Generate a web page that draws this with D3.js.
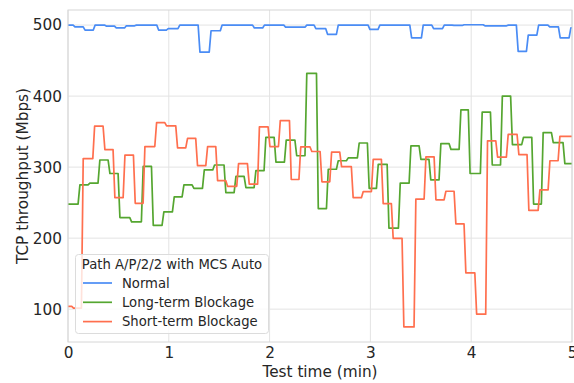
<!DOCTYPE html>
<html>
<head>
<meta charset="utf-8">
<script src="https://cdn.jsdelivr.net/npm/d3@7"></script>
<style>
  html, body { margin: 0; padding: 0; background: #fff; }
  svg { display: block; font-family: "DejaVu Sans", sans-serif; }
</style>
</head>
<body>
<svg id="chart" width="574" height="383"></svg>
<script>
// Throughput traces: each level holds from its start time (min) until the next one.
const normalTimes = [0, 0.06, 0.16, 0.26, 0.37, 0.47, 0.57, 0.67, 0.89, 0.985, 1.10, 1.30, 1.41, 1.52, 1.84, 1.94, 2.15, 2.36, 2.45, 2.566, 2.672, 2.986, 3.085, 3.40, 3.515, 3.618, 3.724, 3.82, 3.92, 4.127, 4.36, 4.457, 4.557, 4.66, 4.77, 4.874, 4.98];
const normalValues = [500, 497.5, 493, 500, 498.6, 496, 499, 500, 493, 495, 500, 462, 492, 500, 496, 500, 497, 500, 495, 487, 500, 494, 500, 482, 500, 495, 500, 499.5, 500.5, 499, 500, 463, 486, 500, 497.5, 482, 496];

const longTimes = [0, 0.109, 0.208, 0.307, 0.407, 0.506, 0.622, 0.737, 0.837, 0.942, 1.045, 1.141, 1.24, 1.343, 1.445, 1.557, 1.657, 1.756, 1.855, 1.954, 2.054, 2.156, 2.26, 2.36, 2.474, 2.573, 2.672, 2.771, 2.88, 2.979, 3.069, 3.175, 3.287, 3.393, 3.492, 3.59, 3.69, 3.79, 3.889, 3.98, 4.10, 4.20, 4.30, 4.40, 4.51, 4.61, 4.705, 4.805, 4.92];
const longValues = [248, 275, 277.5, 310, 291, 229, 223, 301, 218, 237, 258, 275, 270, 296, 303, 264, 287, 271, 295, 342, 307, 338, 316, 432, 241.6, 297, 309, 313, 334, 270, 304, 214, 277.5, 330, 311, 282, 333, 325, 380.7, 291, 377.4, 303, 400, 331.7, 342, 248, 348.7, 334.5, 305];

const shortTimes = [0, 0.046, 0.142, 0.255, 0.357, 0.456, 0.556, 0.658, 0.754, 0.87, 0.969, 1.078, 1.177, 1.276, 1.376, 1.475, 1.574, 1.683, 1.789, 1.89, 1.994, 2.097, 2.206, 2.30, 2.41, 2.51, 2.606, 2.705, 2.82, 2.92, 3.019, 3.118, 3.217, 3.323, 3.442, 3.542, 3.641, 3.74, 3.839, 3.938, 4.045, 4.153, 4.253, 4.358, 4.464, 4.563, 4.673, 4.772, 4.871];
const shortValues = [104, 101.5, 312, 357.6, 324.6, 257, 317, 249, 329, 362.8, 358, 327, 340.6, 302, 329, 281, 273, 305, 276, 356.7, 329, 365.6, 282.6, 328.4, 322, 279.3, 321, 300.6, 257, 265.6, 311, 248.6, 199.7, 75, 255, 314.5, 254, 266, 220, 151, 93, 337, 314, 346, 317.5, 239, 268, 309, 343.4];

const seriesNames = ["Normal", "Long-term Blockage", "Short-term Blockage"];
const seriesColors = ["#4a8cf5", "#55a630", "#ff6f4e"];
const xTicks = [0, 1, 2, 3, 4, 5];
const yTicks = [100, 200, 300, 400, 500];
const legendTitle = "Path A/P/2/2 with MCS Auto";
const xLabel = "Test time (min)";
const yLabel = "TCP throughput (Mbps)";

const series = [
  { times: normalTimes, values: normalValues },
  { times: longTimes, values: longValues },
  { times: shortTimes, values: shortValues }
];

const svg = d3.select("#chart");
const margin = { left: 68, right: 2, top: 10, bottom: 41 };
const W = 574, H = 383;
const tickFont = 15.3;

const x = d3.scaleLinear().domain([0, 5]).range([margin.left, W - margin.right]);
const y = d3.scaleLinear().domain([53.75, 521.25]).range([H - margin.bottom, margin.top]);

// gridlines
const grid = svg.append("g");
grid.selectAll(".gx").data(xTicks).join("line")
  .attr("x1", d => x(d)).attr("x2", d => x(d))
  .attr("y1", y.range()[1]).attr("y2", y.range()[0])
  .attr("stroke", "#e3e3e3").attr("stroke-width", 1);
grid.selectAll(".gy").data(yTicks).join("line")
  .attr("y1", d => y(d)).attr("y2", d => y(d))
  .attr("x1", x.range()[0]).attr("x2", x.range()[1])
  .attr("stroke", "#e3e3e3").attr("stroke-width", 1);

// step traces with a short ramp between samples
const ramp = 0.018;
function tracePoints(s) {
  const pts = [[0, s.values[0]]];
  for (let i = 1; i < s.times.length; i++) {
    pts.push([s.times[i] - ramp / 2, s.values[i - 1]]);
    pts.push([s.times[i] + ramp / 2, s.values[i]]);
  }
  pts.push([5, s.values[s.values.length - 1]]);
  return pts;
}
const line = d3.line().x(d => x(d[0])).y(d => y(d[1]));

svg.append("defs").append("clipPath").attr("id", "plotclip")
  .append("rect").attr("x", x.range()[0]).attr("y", y.range()[1])
  .attr("width", x.range()[1] - x.range()[0]).attr("height", y.range()[0] - y.range()[1]);

const traces = svg.append("g").attr("clip-path", "url(#plotclip)");
series.forEach((s, i) => {
  traces.append("path")
    .datum(tracePoints(s))
    .attr("d", line)
    .attr("fill", "none")
    .attr("stroke", seriesColors[i])
    .attr("stroke-width", 1.7)
    .attr("stroke-linejoin", "round");
});

// frame
svg.append("rect")
  .attr("x", x.range()[0]).attr("y", y.range()[1])
  .attr("width", x.range()[1] - x.range()[0]).attr("height", y.range()[0] - y.range()[1])
  .attr("fill", "none").attr("stroke", "#d6d6d6").attr("stroke-width", 1);

// axes (tick labels only)
const xAxis = d3.axisBottom(x).tickValues(xTicks).tickFormat(d3.format("d")).tickSize(0).tickPadding(5);
const gx = svg.append("g").attr("transform", `translate(0,${y.range()[0]})`).call(xAxis);
gx.select(".domain").remove();
gx.selectAll("text").attr("font-size", tickFont).attr("fill", "#262626").attr("font-family", "DejaVu Sans");

const yAxis = d3.axisLeft(y).tickValues(yTicks).tickFormat(d3.format("d")).tickSize(0).tickPadding(6);
const gy = svg.append("g").attr("transform", `translate(${x.range()[0]},0)`).call(yAxis);
gy.select(".domain").remove();
gy.selectAll("text").attr("font-size", tickFont).attr("fill", "#262626").attr("font-family", "DejaVu Sans");

svg.append("text")
  .attr("x", (x.range()[0] + x.range()[1]) / 2).attr("y", 377)
  .attr("text-anchor", "middle").attr("font-size", tickFont).attr("fill", "#262626")
  .text(xLabel);

svg.append("text")
  .attr("transform", `translate(27.5,${(y.range()[0] + y.range()[1]) / 2}) rotate(-90)`)
  .attr("text-anchor", "middle").attr("font-size", tickFont).attr("fill", "#262626")
  .text(yLabel);

// legend
const lg = svg.append("g");
lg.append("rect")
  .attr("x", 75.5).attr("y", 254.5).attr("width", 193).attr("height", 79).attr("rx", 3)
  .attr("fill", "rgba(255,255,255,0.8)").attr("stroke", "#dcdcdc");
lg.append("text").attr("x", 172).attr("y", 269)
  .attr("text-anchor", "middle").attr("font-size", 13.2).attr("fill", "#262626")
  .text(legendTitle);
seriesNames.forEach((name, i) => {
  const cy = 283 + i * 19.3;
  lg.append("line").attr("x1", 83).attr("x2", 112).attr("y1", cy).attr("y2", cy)
    .attr("stroke", seriesColors[i]).attr("stroke-width", 1.7);
  lg.append("text").attr("x", 122).attr("y", cy + 4.7)
    .attr("font-size", 13.2).attr("fill", "#262626").text(name);
});
</script>
</body>
</html>
